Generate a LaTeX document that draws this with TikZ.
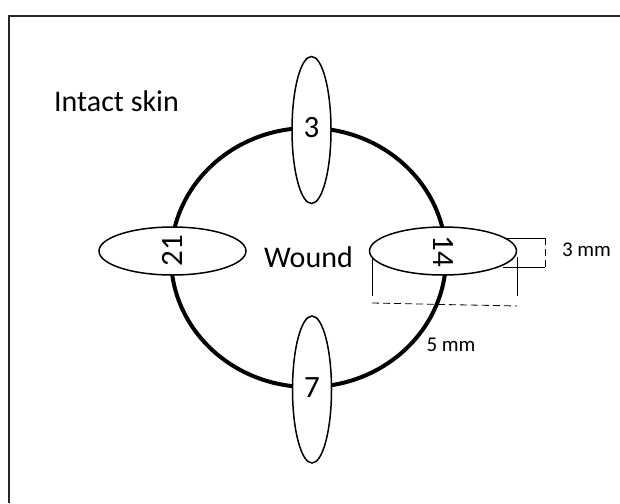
\documentclass[tikz,border=0pt]{standalone}
\usepackage{fontspec}
\setmainfont{Carlito}
\usetikzlibrary{shapes.geometric}

\begin{document}
\begin{tikzpicture}[x=1pt, y=-1pt,
  rim/.style={ellipse, draw, line width=4pt, inner sep=0pt, minimum width=275pt, minimum height=259pt, font=\fontsize{30}{36}\selectfont},
  pad/.style={ellipse, draw, line width=1.5pt, fill=white, inner sep=0pt, minimum width=39pt, minimum height=147pt, font=\fontsize{31}{37}\selectfont},
  dim/.style={line width=0.8pt},
  gap/.style={line width=0.8pt, dash pattern=on 7pt off 4pt},
  annot/.style={font=\fontsize{21}{25}\selectfont},
]
  \useasboundingbox (0,0) rectangle (620,503);

  % frame
  \draw[line width=2pt, black!85] (9,503) -- (9,16) -- (620,16);

  % wound edge
  \node[rim] (wound) at (308.5,257.5) {Wound};

  % biopsy sites
  \node[pad] (p3) at (311.5,130) {\raisebox{6pt}{3}};
  \node[pad] (p7) at (312,389.5) {\raisebox{3pt}{7}};
  \node[pad, minimum width=48pt, rotate=90] (p21) at (172.5,251) {21};
  \node[pad, minimum width=48pt, rotate=-90] (p14) at (443,251) {14};

  % labels
  \node[font=\fontsize{30}{36}\selectfont] (skin) at (116.5,101) {Intact skin};
  \node[annot] (w3) at (586.5,250) {3 mm};
  \node[annot] (w5) at (451,345) {5 mm};

  % width of the site
  \coordinate (t0) at (507,238);
  \coordinate (t1) at (545,238);
  \coordinate (b0) at (503,267);
  \coordinate (b1) at (545,267);
  \draw[dim] (t0) -- (t1);
  \draw[dim] (b0) -- (b1);
  \draw[gap] (t1) -- (b1);

  % length of the site
  \coordinate (l0) at (372,257);
  \coordinate (l1) at (372,296);
  \coordinate (r0) at (517,257);
  \coordinate (r1) at (517,296);
  \draw[dim] (l0) -- (l1);
  \draw[dim] (r0) -- (r1);
  \coordinate (d0) at (372,303);
  \coordinate (d1) at (517,306);
  \draw[gap] (d0) -- (d1);
\end{tikzpicture}
\end{document}
